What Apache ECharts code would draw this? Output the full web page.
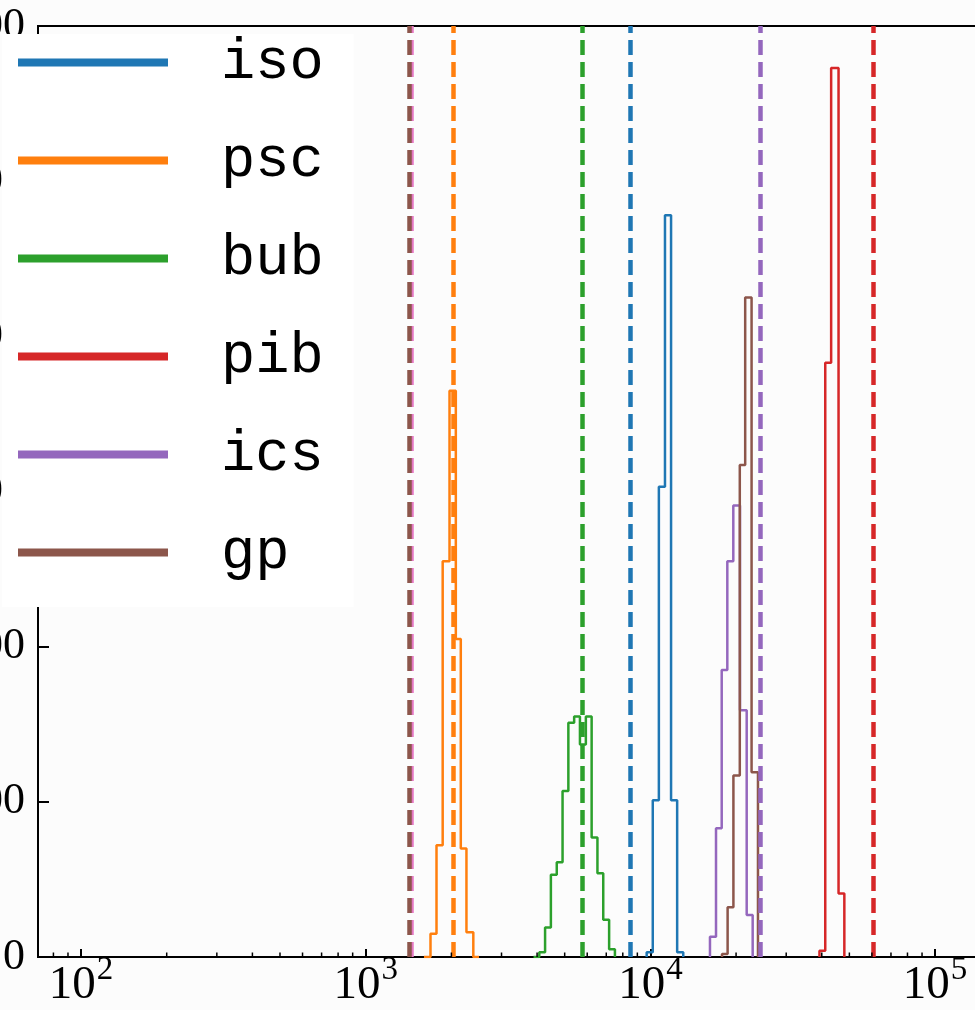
<!DOCTYPE html>
<html>
<head>
<meta charset="utf-8">
<script src="https://cdn.jsdelivr.net/npm/echarts@6/dist/echarts.min.js"></script>
<style>
  html, body { margin: 0; padding: 0; background: #fcfcfc; }
  #chart { width: 975px; height: 1010px; }
</style>
</head>
<body>
<div id="chart"></div>
<script>
// ---- data ----
const seriesNames = ['iso', 'psc', 'bub', 'pib', 'ics', 'gp'];

const isoEdges  = [9705, 10196, 10711, 11253, 11821, 12418, 13045];
const isoCounts = [3, 101, 303, 478, 101, 3];

const pscEdges  = [1602, 1689, 1773, 1864, 1970, 2073, 2158, 2259, 2388, 2500];
const pscCounts = [0, 15, 72, 255, 365, 205, 70, 16, 0];

const bubEdges  = [3886, 4072, 4267, 4472, 4690, 4915, 5151, 5398, 5657, 5934, 6218, 6517, 6830, 7163, 7507];
const bubCounts = [0, 3, 19, 53, 61, 107, 151, 155, 137, 155, 77, 54, 24, 5];

const pibEdges  = [39260, 41140, 43150, 45810, 48010];
const pibCounts = [4, 383, 573, 41];

const icsEdges  = [16193, 17004, 17806, 18632, 19557, 20645, 21793, 22874];
const icsCounts = [13, 83, 185, 255, 291, 159, 27];

const gpEdges   = [17849, 18677, 19573, 20611, 21530, 22671, 23875];
const gpCounts  = [2, 32, 117, 317, 425, 119];

// vertical dashed reference lines (x values)
const isoRef = 8500;
const pscRef = 2026;
const bubRef = 5741;
const pibRef = 60850;
const icsRef = 24400;
const gpRef  = 1423;
const extraRef = 1448; // pink line (no legend entry)

const xMin = 70.62, xMax = 158489;
const yTicks = [0, 100, 200, 300, 400, 500, 600];
const minorTickValues = [80, 90, 200, 300, 400, 500, 600, 700, 800, 900,
  2000, 3000, 4000, 5000, 6000, 7000, 8000, 9000,
  20000, 30000, 40000, 50000, 60000, 70000, 80000, 90000];

const colors = {
  iso: '#1f77b4', psc: '#ff7f0e', bub: '#2ca02c', pib: '#d62728',
  ics: '#9467bd', gp: '#8c564b', extra: '#e377c2'
};

// ---- build step outlines (matplotlib histtype="step") ----
function stepPoints(edges, counts) {
  const pts = [[edges[0], 0]];
  for (let i = 0; i < counts.length; i++) {
    pts.push([edges[i], counts[i]]);
    pts.push([edges[i + 1], counts[i]]);
  }
  pts.push([edges[edges.length - 1], 0]);
  return pts;
}

function dashLine(x, color) {
  return {
    symbol: ['none', 'none'],
    silent: true,
    animation: false,
    label: { show: false },
    emphasis: { disabled: true },
    lineStyle: { color: color, width: 4.5, type: [15, 7], cap: 'butt', opacity: 1 },
    data: [{ xAxis: x }]
  };
}

function hist(name, edges, counts, ref) {
  return {
    name: name,
    type: 'line',
    data: stepPoints(edges, counts),
    showSymbol: false,
    symbol: 'none',
    animation: false,
    color: colors[name],
    lineStyle: { width: 2.5, color: colors[name] },
    emphasis: { disabled: true },
    markLine: dashLine(ref, colors[name]),
    z: 3
  };
}

const chart = echarts.init(document.getElementById('chart'), null, { renderer: 'canvas' });

const option = {
  backgroundColor: '#fcfcfc',
  animation: false,
  grid: {
    left: 38, right: -17, top: 26, bottom: 53,
    containLabel: false,
    outerBoundsMode: 'none',
    show: true, borderColor: '#000', borderWidth: 2, backgroundColor: 'transparent'
  },
  legend: {
    orient: 'vertical',
    left: 2, top: 34,
    data: seriesNames,
    icon: 'rect',
    itemWidth: 150, itemHeight: 8,
    itemGap: 41,
    padding: [0, 30, 26, 16],
    backgroundColor: '#ffffff',
    selectedMode: false,
    textStyle: { fontFamily: 'Liberation Mono', fontSize: 57, color: '#000', padding: [0, 0, 0, 48] },
    z: 10
  },
  xAxis: {
    type: 'log',
    logBase: 10,
    min: xMin, max: xMax,
    axisLine: { show: true, lineStyle: { color: '#000', width: 2 } },
    axisTick: { show: true, inside: true, length: 8, lineStyle: { color: '#000', width: 2 } },
    splitLine: { show: false },
    minorTick: { show: false },
    axisLabel: {
      show: true,
      margin: 6,
      showMinLabel: false,
      showMaxLabel: false,
      color: '#000',
      formatter: function (v) {
        const e = Math.log10(v);
        if (Math.abs(e - Math.round(e)) > 1e-6) return '';
        return '{n|10}{e|' + Math.round(e) + '}';
      },
      rich: {
        n: { fontFamily: 'Liberation Serif', fontSize: 47, color: '#000', verticalAlign: 'bottom', lineHeight: 46 },
        e: { fontFamily: 'Liberation Serif', fontSize: 33, color: '#000', verticalAlign: 'bottom', lineHeight: 32, padding: [0, 0, 22, 1] }
      }
    }
  },
  yAxis: {
    type: 'value',
    min: yTicks[0], max: yTicks[yTicks.length - 1], interval: yTicks[1] - yTicks[0],
    axisLine: { show: true, lineStyle: { color: '#000', width: 2 } },
    axisTick: { show: true, inside: true, length: 11, lineStyle: { color: '#000', width: 2 } },
    splitLine: { show: false },
    axisLabel: { margin: 13, color: '#000', fontFamily: 'Liberation Serif', fontSize: 44 }
  },
  series: [
    {
      name: 'extra', type: 'line', data: [], showSymbol: false, color: colors.extra,
      markLine: dashLine(extraRef, colors.extra), z: 2
    },
    hist('iso', isoEdges, isoCounts, isoRef),
    hist('psc', pscEdges, pscCounts, pscRef),
    hist('bub', bubEdges, bubCounts, bubRef),
    hist('pib', pibEdges, pibCounts, pibRef),
    hist('ics', icsEdges, icsCounts, icsRef),
    hist('gp', gpEdges, gpCounts, gpRef),
    {
      name: 'minorTicks',
      type: 'custom',
      silent: true,
      clip: true,
      z: 5,
      data: minorTickValues.map(v => [v, 0]),
      encode: { x: 0, y: 1 },
      renderItem: function (params, api) {
        const p = api.coord([api.value(0), 0]);
        return {
          type: 'line',
          shape: { x1: p[0], y1: p[1], x2: p[0], y2: p[1] - 4.5 },
          style: { stroke: '#000', lineWidth: 1.5 }
        };
      }
    }
  ]
};

chart.setOption(option);
</script>
</body>
</html>
